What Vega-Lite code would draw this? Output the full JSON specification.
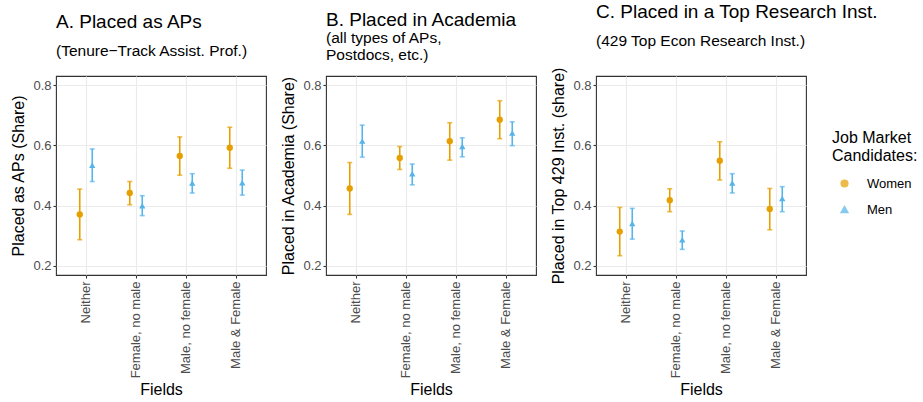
{
  "$schema": "https://vega.github.io/schema/vega-lite/v6.json",
  "background": "white",
  "padding": {"left": 10, "top": 2, "right": 5, "bottom": 5},
  "datasets": {
    "d": [
      {"panel": "A", "field": "Neither", "sex": "Women", "share": 0.371, "lo": 0.287, "hi": 0.455},
      {"panel": "A", "field": "Neither", "sex": "Men", "share": 0.534, "lo": 0.480, "hi": 0.588},
      {"panel": "A", "field": "Female, no male", "sex": "Women", "share": 0.442, "lo": 0.403, "hi": 0.480},
      {"panel": "A", "field": "Female, no male", "sex": "Men", "share": 0.400, "lo": 0.367, "hi": 0.433},
      {"panel": "A", "field": "Male, no female", "sex": "Women", "share": 0.565, "lo": 0.501, "hi": 0.628},
      {"panel": "A", "field": "Male, no female", "sex": "Men", "share": 0.475, "lo": 0.442, "hi": 0.506},
      {"panel": "A", "field": "Male & Female", "sex": "Women", "share": 0.592, "lo": 0.524, "hi": 0.660},
      {"panel": "A", "field": "Male & Female", "sex": "Men", "share": 0.476, "lo": 0.435, "hi": 0.518},
      {"panel": "B", "field": "Neither", "sex": "Women", "share": 0.457, "lo": 0.371, "hi": 0.543},
      {"panel": "B", "field": "Neither", "sex": "Men", "share": 0.614, "lo": 0.561, "hi": 0.667},
      {"panel": "B", "field": "Female, no male", "sex": "Women", "share": 0.558, "lo": 0.520, "hi": 0.596},
      {"panel": "B", "field": "Female, no male", "sex": "Men", "share": 0.506, "lo": 0.469, "hi": 0.538},
      {"panel": "B", "field": "Male, no female", "sex": "Women", "share": 0.614, "lo": 0.551, "hi": 0.675},
      {"panel": "B", "field": "Male, no female", "sex": "Men", "share": 0.596, "lo": 0.562, "hi": 0.625},
      {"panel": "B", "field": "Male & Female", "sex": "Women", "share": 0.685, "lo": 0.622, "hi": 0.748},
      {"panel": "B", "field": "Male & Female", "sex": "Men", "share": 0.641, "lo": 0.599, "hi": 0.678},
      {"panel": "C", "field": "Neither", "sex": "Women", "share": 0.314, "lo": 0.234, "hi": 0.394},
      {"panel": "C", "field": "Neither", "sex": "Men", "share": 0.341, "lo": 0.289, "hi": 0.391},
      {"panel": "C", "field": "Female, no male", "sex": "Women", "share": 0.418, "lo": 0.380, "hi": 0.456},
      {"panel": "C", "field": "Female, no male", "sex": "Men", "share": 0.287, "lo": 0.255, "hi": 0.316},
      {"panel": "C", "field": "Male, no female", "sex": "Women", "share": 0.549, "lo": 0.485, "hi": 0.612},
      {"panel": "C", "field": "Male, no female", "sex": "Men", "share": 0.475, "lo": 0.442, "hi": 0.506},
      {"panel": "C", "field": "Male & Female", "sex": "Women", "share": 0.389, "lo": 0.320, "hi": 0.457},
      {"panel": "C", "field": "Male & Female", "sex": "Men", "share": 0.424, "lo": 0.380, "hi": 0.463}
    ]
  },
  "data": {"name": "d"},
  "bounds": "flush",
  "spacing": 60,
  "config": {
    "font": "Liberation Sans",
    "view": {"stroke": "#333333", "strokeWidth": 1.1},
    "axis": {
      "labelFont": "Liberation Sans",
      "titleFont": "Liberation Sans",
      "labelColor": "#4d4d4d",
      "labelFontSize": 13,
      "titleFontSize": 16,
      "titleFontWeight": "normal",
      "titleColor": "#000000",
      "tickColor": "#333333",
      "tickSize": 3,
      "tickWidth": 1.1,
      "domain": false,
      "gridColor": "#ebebeb"
    },
    "title": {
      "font": "Liberation Sans",
      "fontSize": 19,
      "fontWeight": "normal",
      "color": "#000000",
      "subtitleFont": "Liberation Sans",
      "subtitleFontSize": 15.5,
      "subtitleColor": "#000000",
      "anchor": "start",
      "frame": "group"
    },
    "legend": {
      "titleFont": "Liberation Sans",
      "labelFont": "Liberation Sans",
      "titleFontSize": 16,
      "titleFontWeight": "normal",
      "titleColor": "#000000",
      "titleLineHeight": 18,
      "labelFontSize": 13,
      "labelColor": "#000000"
    }
  },
  "hconcat": [
    {
      "width": 210, "height": 199,
      "title": {"text": "A. Placed as APs", "subtitle": "(Tenure\u2212Track Assist. Prof.)", "subtitlePadding": 12, "offset": 17},
      "transform": [{"filter": "datum.panel === 'A'"}],
      "encoding": {
        "x": {"field": "field", "type": "nominal", "sort": ["Neither", "Female, no male", "Male, no female", "Male & Female"],
              "scale": {"type": "band", "paddingInner": 0, "paddingOuter": 0.1},
              "axis": {"title": "Fields", "labelAngle": 270, "grid": true, "gridWidth": 1.1, "bandPosition": 0.5, "labelPadding": 3, "titlePadding": 4}},
        "xOffset": {"field": "sex", "type": "nominal", "sort": ["Women", "Men"], "scale": {"type": "band", "paddingInner": 0, "paddingOuter": 2}},
        "color": {"field": "sex", "type": "nominal", "sort": ["Women", "Men"], "scale": {"domain": ["Women", "Men"], "range": ["#E69F00", "#56B4E9"]},
                  "legend": {"title": ["Job Market", "\u00a0Candidates:"], "orient": "none", "legendX": 776, "legendY": 54, "symbolSize": 45, "rowPadding": 12, "titlePadding": 13, "symbolOffset": 6, "labelOffset": 16}}
      },
      "layer": [
        {"mark": {"type": "rule", "strokeWidth": 1.6},
         "encoding": {"y": {"field": "lo", "type": "quantitative", "scale": {"domain": [0.17, 0.83], "nice": false, "zero": false},
           "axis": {"title": "Placed as APs (Share)", "values": [0.2, 0.3, 0.4, 0.5, 0.6, 0.7, 0.8], "grid": true,
             "labelExpr": "round(datum.value*10)%2==1 ? '' : format(datum.value, '.1f')",
             "gridWidth": {"condition": {"test": "round(datum.value*10)%2==1", "value": 0.55}, "value": 1.1},
             "tickOpacity": {"condition": {"test": "round(datum.value*10)%2==1", "value": 0}, "value": 1},
             "labelPadding": 2, "titlePadding": 6}},
           "y2": {"field": "hi"}}},
        {"mark": {"type": "tick", "orient": "horizontal", "size": 5, "thickness": 1.6}, "encoding": {"y": {"field": "lo", "type": "quantitative"}}},
        {"mark": {"type": "tick", "orient": "horizontal", "size": 5, "thickness": 1.6}, "encoding": {"y": {"field": "hi", "type": "quantitative"}}},
        {"mark": {"type": "point", "filled": true, "size": 40, "opacity": 1},
         "encoding": {"y": {"field": "share", "type": "quantitative"},
           "shape": {"field": "sex", "type": "nominal", "sort": ["Women", "Men"], "scale": {"domain": ["Women", "Men"], "range": ["circle", "triangle-up"]}}}}
      ]
    },
    {
      "width": 210, "height": 199,
      "title": {"text": "B. Placed in Academia", "subtitle": ["(all types of APs,", "\u00a0Postdocs, etc.)"], "subtitlePadding": 1, "subtitleLineHeight": 17, "offset": 12},
      "transform": [{"filter": "datum.panel === 'B'"}],
      "encoding": {
        "x": {"field": "field", "type": "nominal", "sort": ["Neither", "Female, no male", "Male, no female", "Male & Female"],
              "scale": {"type": "band", "paddingInner": 0, "paddingOuter": 0.1},
              "axis": {"title": "Fields", "labelAngle": 270, "grid": true, "gridWidth": 1.1, "bandPosition": 0.5, "labelPadding": 3, "titlePadding": 4}},
        "xOffset": {"field": "sex", "type": "nominal", "sort": ["Women", "Men"], "scale": {"type": "band", "paddingInner": 0, "paddingOuter": 2}},
        "color": {"field": "sex", "type": "nominal", "sort": ["Women", "Men"]}
      },
      "layer": [
        {"mark": {"type": "rule", "strokeWidth": 1.6},
         "encoding": {"y": {"field": "lo", "type": "quantitative", "scale": {"domain": [0.17, 0.83], "nice": false, "zero": false},
           "axis": {"title": "Placed in Academia (Share)", "values": [0.2, 0.3, 0.4, 0.5, 0.6, 0.7, 0.8], "grid": true,
             "labelExpr": "round(datum.value*10)%2==1 ? '' : format(datum.value, '.1f')",
             "gridWidth": {"condition": {"test": "round(datum.value*10)%2==1", "value": 0.55}, "value": 1.1},
             "tickOpacity": {"condition": {"test": "round(datum.value*10)%2==1", "value": 0}, "value": 1},
             "labelPadding": 2, "titlePadding": 6}},
           "y2": {"field": "hi"}}},
        {"mark": {"type": "tick", "orient": "horizontal", "size": 5, "thickness": 1.6}, "encoding": {"y": {"field": "lo", "type": "quantitative"}}},
        {"mark": {"type": "tick", "orient": "horizontal", "size": 5, "thickness": 1.6}, "encoding": {"y": {"field": "hi", "type": "quantitative"}}},
        {"mark": {"type": "point", "filled": true, "size": 40, "opacity": 1},
         "encoding": {"y": {"field": "share", "type": "quantitative"},
           "shape": {"field": "sex", "type": "nominal", "sort": ["Women", "Men"]}}}
      ]
    },
    {
      "width": 210, "height": 199,
      "title": {"text": "C. Placed in a Top Research Inst.", "subtitle": "(429 Top Econ Research Inst.)", "subtitlePadding": 12, "offset": 17},
      "transform": [{"filter": "datum.panel === 'C'"}],
      "encoding": {
        "x": {"field": "field", "type": "nominal", "sort": ["Neither", "Female, no male", "Male, no female", "Male & Female"],
              "scale": {"type": "band", "paddingInner": 0, "paddingOuter": 0.1},
              "axis": {"title": "Fields", "labelAngle": 270, "grid": true, "gridWidth": 1.1, "bandPosition": 0.5, "labelPadding": 3, "titlePadding": 4}},
        "xOffset": {"field": "sex", "type": "nominal", "sort": ["Women", "Men"], "scale": {"type": "band", "paddingInner": 0, "paddingOuter": 2}},
        "color": {"field": "sex", "type": "nominal", "sort": ["Women", "Men"]}
      },
      "layer": [
        {"mark": {"type": "rule", "strokeWidth": 1.6},
         "encoding": {"y": {"field": "lo", "type": "quantitative", "scale": {"domain": [0.17, 0.83], "nice": false, "zero": false},
           "axis": {"title": "Placed in Top 429 Inst. (share)", "values": [0.2, 0.3, 0.4, 0.5, 0.6, 0.7, 0.8], "grid": true,
             "labelExpr": "round(datum.value*10)%2==1 ? '' : format(datum.value, '.1f')",
             "gridWidth": {"condition": {"test": "round(datum.value*10)%2==1", "value": 0.55}, "value": 1.1},
             "tickOpacity": {"condition": {"test": "round(datum.value*10)%2==1", "value": 0}, "value": 1},
             "labelPadding": 2, "titlePadding": 6}},
           "y2": {"field": "hi"}}},
        {"mark": {"type": "tick", "orient": "horizontal", "size": 5, "thickness": 1.6}, "encoding": {"y": {"field": "lo", "type": "quantitative"}}},
        {"mark": {"type": "tick", "orient": "horizontal", "size": 5, "thickness": 1.6}, "encoding": {"y": {"field": "hi", "type": "quantitative"}}},
        {"mark": {"type": "point", "filled": true, "size": 40, "opacity": 1},
         "encoding": {"y": {"field": "share", "type": "quantitative"},
           "shape": {"field": "sex", "type": "nominal", "sort": ["Women", "Men"]}}}
      ]
    }
  ]
}
